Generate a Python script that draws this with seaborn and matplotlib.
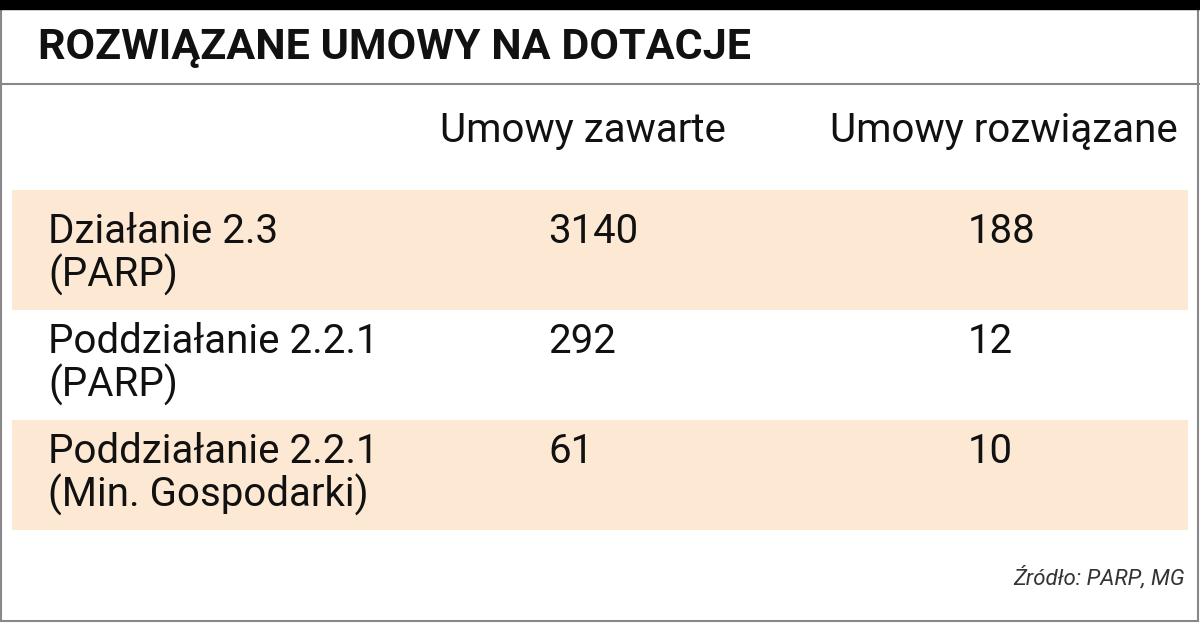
import matplotlib
matplotlib.use("Agg")
import matplotlib.pyplot as plt
import seaborn as sns
from matplotlib.patches import Rectangle

sns.set_theme(style="white")
plt.rcParams["font.family"] = ["Liberation Sans Narrow", "Roboto", "DejaVu Sans"]

title = "ROZWIĄZANE UMOWY NA DOTACJE"
columns = ["Umowy zawarte", "Umowy rozwiązane"]
row_labels = ["Działanie 2.3\n(PARP)", "Poddziałanie 2.2.1\n(PARP)", "Poddziałanie 2.2.1\n(Min. Gospodarki)"]
contracts = [3140, 292, 61]
terminated = [188, 12, 10]
source = "Źródło: PARP, MG"

peach = "#fde8d3"
fig = plt.figure(figsize=(12, 6.23), dpi=100)
ax = fig.add_axes([0, 0, 1, 1])
ax.set_xlim(0, 1200)
ax.set_ylim(623, 0)
ax.axis("off")

# frame and top bar
ax.add_patch(Rectangle((1, 1), 1197, 620, fill=False, ec="#888888", lw=1.5))
ax.add_patch(Rectangle((0, 0), 1200, 9, color="black"))
ax.plot([0, 1200], [84, 84], color="#888888", lw=1.5)
ax.text(38, 47, title, fontsize=31, fontweight="bold", va="center", ha="left", color="#111111")

ax.text(440, 130, columns[0], fontsize=29, va="center", ha="left", color="#111111")
ax.text(830, 130, columns[1], fontsize=29, va="center", ha="left", color="#111111")

row_top = [190, 310, 420]
row_h = [120, 110, 110]
for i, lab in enumerate(row_labels):
    if i % 2 == 0:
        ax.add_patch(Rectangle((12, row_top[i]), 1176, row_h[i], color=peach, lw=0))
    y = row_top[i] + 22 if i == 0 else row_top[i] + 12
    ax.text(48, y, lab, fontsize=29, va="top", ha="left", color="#111111",
            linespacing=1.1)
    ax.text(548, y, str(contracts[i]), fontsize=29, va="top", ha="left", color="#111111")
    ax.text(968, y, str(terminated[i]), fontsize=29, va="top", ha="left", color="#111111")

ax.text(1185, 578, source, fontsize=16, style="italic", va="center", ha="right", color="#333333")

fig.savefig("out.png", dpi=100)
